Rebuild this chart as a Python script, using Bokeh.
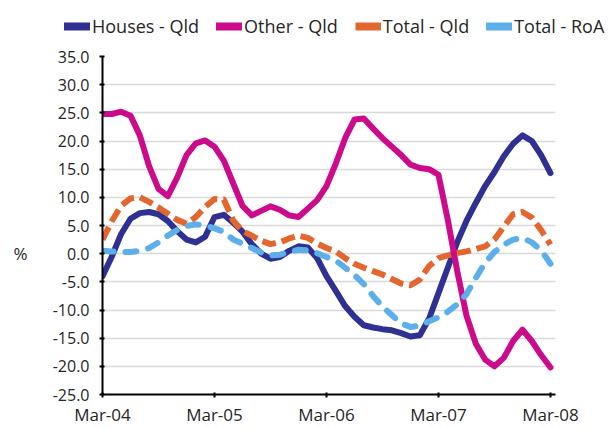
from bokeh.plotting import figure
from bokeh.models import (Range1d, FixedTicker, NumeralTickFormatter, Legend, LegendItem,
                          LinearAxis, ColumnDataSource)
from bokeh.embed import file_html
from bokeh.resources import INLINE

# ---- data (monthly, Mar-04 .. Mar-08; annual % change) ----
months = list(range(49))
tick_positions = [0, 12, 24, 36, 48]
tick_labels = ["Mar-04", "Mar-05", "Mar-06", "Mar-07", "Mar-08"]
y_ticks = [-25, -20, -15, -10, -5, 0, 5, 10, 15, 20, 25, 30, 35]

houses_qld = [-4.0, -0.5, 3.5, 6.2, 7.2, 7.4, 7.0, 5.8, 4.0, 2.5, 2.0, 3.0,
              6.5, 6.9, 5.5, 3.9, 1.7, 0.0, -0.9, -0.6, 0.5, 1.3, 1.1, -0.8,
              -4.0, -6.6, -9.3, -11.2, -12.7, -13.1, -13.4, -13.6, -14.1, -14.7, -14.5, -11.5,
              -7.0, -2.5, 2.0, 5.8, 9.0, 12.0, 14.5, 17.3, 19.5, 21.0, 20.0, 17.5,
              14.3]
other_qld = [24.8, 24.8, 25.2, 24.5, 21.0, 15.5, 11.5, 10.2, 13.5, 17.5, 19.6, 20.1,
             19.0, 16.5, 12.5, 8.5, 6.8, 7.6, 8.4, 7.8, 6.8, 6.5, 8.0, 9.5,
             12.0, 16.0, 20.5, 23.8, 24.0, 22.2, 20.5, 19.0, 17.5, 15.8, 15.2, 15.0,
             14.0, 6.0, -3.0, -11.0, -16.0, -18.8, -20.0, -18.5, -15.5, -13.5, -15.5, -18.0,
             -20.2]
total_qld = [2.5, 5.8, 8.5, 9.8, 10.0, 9.2, 8.2, 7.1, 6.0, 5.3, 6.5, 8.3,
             9.7, 9.6, 5.9, 4.0, 3.2, 2.3, 1.7, 2.0, 2.7, 3.2, 2.8, 1.8,
             1.0, 0.4, -0.8, -1.8, -2.5, -3.1, -3.7, -4.5, -5.3, -5.6, -4.6, -2.2,
             -0.8, -0.3, 0.1, 0.4, 0.8, 1.3, 2.5, 4.8, 7.0, 7.4, 6.4, 4.2,
             1.6]
total_roa = [0.5, 0.4, 0.3, 0.3, 0.5, 1.0, 2.0, 3.2, 4.2, 4.9, 5.2, 5.0,
             4.5, 3.9, 2.5, 1.8, 1.0, 0.2, -0.3, -0.2, 0.3, 0.7, 0.6, 0.1,
             -0.6, -1.2, -2.5, -3.8, -5.4, -7.5, -9.4, -10.9, -12.4, -13.0, -12.8, -12.0,
             -11.3, -10.3, -9.0, -7.2, -4.3, -1.6, 0.3, 1.6, 2.5, 2.8, 2.0, 0.6,
             -1.8]

series_names = ["Houses - Qld", "Other - Qld", "Total - Qld", "Total - RoA"]
colors = ["#2E3192", "#CC0A8C", "#E2662E", "#5DAFEA"]
y_unit_label = "%"

src = ColumnDataSource(dict(m=months, houses=houses_qld, other=other_qld,
                            tq=total_qld, roa=total_roa))

FONT = "Open Sans"
TXT = "#262626"
LEG_H = 44

# ---------- legend strip (separate root, full-width frame) ----------
lf = figure(width=610, height=LEG_H, output_backend="svg", toolbar_location=None,
            x_range=Range1d(0, 1), y_range=Range1d(0, 1), x_axis_type=None, y_axis_type=None,
            min_border_left=0, min_border_right=0, min_border_top=0, min_border_bottom=0)
lf.grid.visible = False
lf.outline_line_color = None
nan = float("nan")
proxies = []
for c, cap in zip(colors, ["round", "round", "butt", "round"]):
    proxies.append(lf.line(x=[nan], y=[nan], color=c, line_width=8, line_cap=cap))
legend = Legend(items=[LegendItem(label=n, renderers=[r]) for n, r in zip(series_names, proxies)],
                orientation="horizontal", location=(64, 6),
                label_text_font=FONT, label_text_font_size="18px",
                label_text_color=TXT,
                glyph_width=26, glyph_height=14, label_standoff=2, spacing=17,
                padding=2, margin=0, border_line_color=None, background_fill_alpha=0)
lf.add_layout(legend)

# ---------- main plot ----------
p = figure(width=610, height=428 - LEG_H, output_backend="svg", toolbar_location=None,
           x_range=Range1d(0, 48.54), y_range=Range1d(-25, 35),
           min_border_left=102, min_border_right=55, min_border_top=56 - LEG_H,
           min_border_bottom=31)
p.outline_line_color = None
p.background_fill_color = "white"

p.xgrid.grid_line_color = None
p.ygrid.grid_line_color = "#D9D9D9"
p.ygrid.grid_line_width = 1.3
p.ygrid.ticker = FixedTicker(ticks=y_ticks)

p.xaxis.ticker = FixedTicker(ticks=tick_positions)
p.xaxis.major_label_overrides = {t: l for t, l in zip(tick_positions, tick_labels)}
p.yaxis.ticker = FixedTicker(ticks=y_ticks)
p.yaxis.formatter = NumeralTickFormatter(format="0.0")
for ax in (p.xaxis, p.yaxis):
    ax.axis_line_color = "black"
    ax.axis_line_width = 2
    ax.major_tick_line_color = "black"
    ax.major_tick_line_width = 2
    ax.major_tick_out = 3
    ax.major_tick_in = 2
    ax.minor_tick_line_color = None
    ax.major_label_text_font = FONT
    ax.major_label_text_color = TXT
p.xaxis.major_label_text_font_size = "17px"
p.yaxis.major_label_text_font_size = "16px"
p.xaxis.major_label_standoff = 5
p.yaxis.major_label_standoff = 10

unit_ax = LinearAxis(ticker=FixedTicker(ticks=[0]), major_label_overrides={0: y_unit_label},
                     axis_line_color=None, major_tick_line_color=None, minor_tick_line_color=None,
                     major_label_text_font=FONT, major_label_text_font_size="17px",
                     major_label_text_color=TXT, major_label_standoff=16)
p.add_layout(unit_ax, "left")

p.line("m", "houses", source=src, color=colors[0], line_width=6, line_join="round", line_cap="round")
p.line("m", "other", source=src, color=colors[1], line_width=6, line_join="round", line_cap="round")
p.line("m", "tq", source=src, color=colors[2], line_width=6, line_join="round", line_dash="14 6")
p.line("m", "roa", source=src, color=colors[3], line_width=6, line_join="round",
       line_cap="round", line_dash="11 12")

open("out.html", "w").write(file_html([lf, p], INLINE))
